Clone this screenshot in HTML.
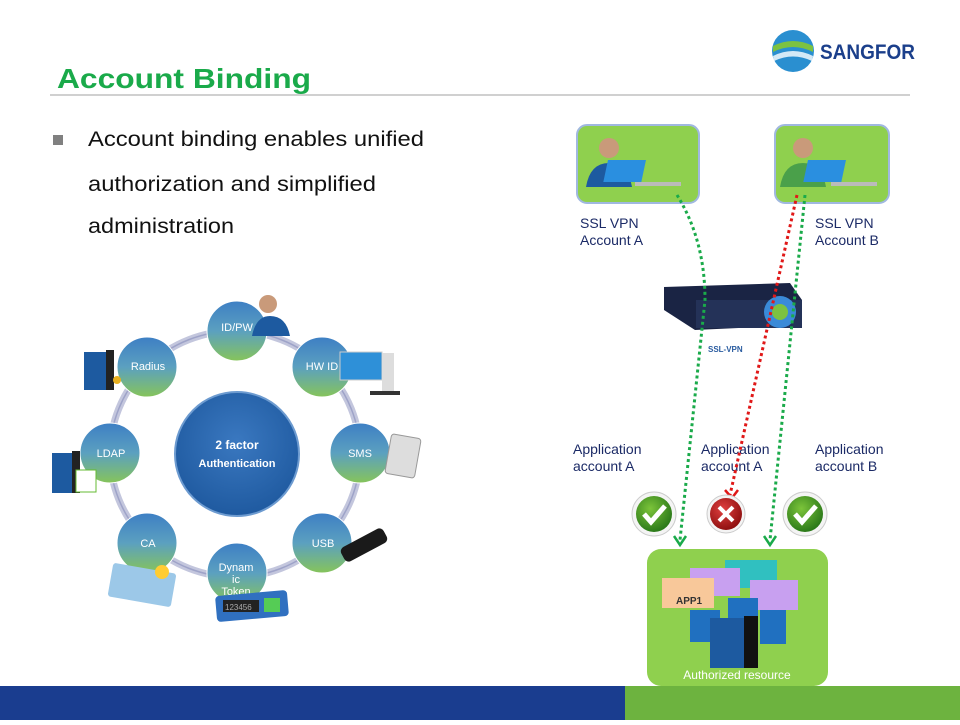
<!DOCTYPE html>
<html><head><style>
body{margin:0;width:960px;height:720px;overflow:hidden;background:#fff;font-family:"Liberation Sans",sans-serif;}
</style></head><body>
<svg width="960" height="720" xmlns="http://www.w3.org/2000/svg" font-family="Liberation Sans, sans-serif">
<defs>
<linearGradient id="bub2" x1="0" y1="0" x2="0" y2="1"><stop offset="0" stop-color="#3d7fc4"/><stop offset="0.5" stop-color="#5ba0c0"/><stop offset="1" stop-color="#86c45a"/></linearGradient>
<radialGradient id="ctr" cx="50%" cy="40%" r="60%"><stop offset="0" stop-color="#3a78c0"/><stop offset="1" stop-color="#1f5aa0"/></radialGradient>
<radialGradient id="chk" cx="40%" cy="35%" r="65%"><stop offset="0" stop-color="#7cc43a"/><stop offset="1" stop-color="#2c7a1a"/></radialGradient>
<radialGradient id="xr" cx="40%" cy="35%" r="65%"><stop offset="0" stop-color="#e04040"/><stop offset="1" stop-color="#901010"/></radialGradient>
</defs>
<circle cx="793" cy="51" r="21" fill="#2a8fd0"/>
<path d="M773 46 Q793 36 813 46 L813 52 Q793 42 773 52Z" fill="#7cc241"/>
<path d="M773 56 Q793 46 813 56 L812 61 Q793 52 774 61Z" fill="#fff" opacity="0.8"/>
<text x="820" y="59" font-size="21" font-weight="bold" fill="#1b3f8b" textLength="95" lengthAdjust="spacingAndGlyphs">SANGFOR</text>
<text x="57" y="88" font-size="28" font-weight="bold" fill="#1aaa4a" textLength="254" lengthAdjust="spacingAndGlyphs">Account Binding</text>
<rect x="50" y="94" width="860" height="2" fill="#d0d0d0"/>
<rect x="53" y="135" width="10" height="10" fill="#808080"/>
<g font-size="21" fill="#111">
<text x="88" y="146" textLength="336" lengthAdjust="spacingAndGlyphs">Account binding enables unified</text>
<text x="88" y="191" textLength="288" lengthAdjust="spacingAndGlyphs">authorization and simplified</text>
<text x="88" y="233" textLength="146" lengthAdjust="spacingAndGlyphs">administration</text>
</g>
<ellipse cx="235" cy="454" rx="125" ry="123" fill="none" stroke="#c3c6dd" stroke-width="7"/>
<ellipse cx="235" cy="454" rx="125" ry="123" fill="none" stroke="#9ea3c8" stroke-width="1.5"/>
<circle cx="237" cy="454" r="62" fill="url(#ctr)" stroke="#6d9bd0" stroke-width="2"/>
<text x="237" y="449" font-size="12" font-weight="bold" fill="#fff" text-anchor="middle">2 factor</text>
<text x="237" y="467" font-size="11" font-weight="bold" fill="#fff" text-anchor="middle">Authentication</text>
<g fill="url(#bub2)" stroke="#fff" stroke-width="1">
<circle cx="237" cy="331" r="30"/><circle cx="322" cy="367" r="30"/><circle cx="360" cy="453" r="30"/><circle cx="322" cy="543" r="30"/>
<circle cx="237" cy="573" r="30"/><circle cx="147" cy="543" r="30"/><circle cx="110" cy="453" r="30"/><circle cx="147" cy="367" r="30"/>
</g>
<g font-size="11" fill="#fff" text-anchor="middle">
<text x="237" y="331">ID/PW</text><text x="322" y="370">HW ID</text><text x="360" y="457">SMS</text><text x="323" y="547">USB</text>
<text x="236" y="571">Dynam</text><text x="236" y="583">ic</text><text x="236" y="595">Token</text>
<text x="148" y="547">CA</text><text x="111" y="457">LDAP</text><text x="148" y="370">Radius</text>
</g>
<circle cx="268" cy="304" r="9" fill="#c99a7a"/><path d="M252 336 Q256 316 270 316 Q286 316 290 336Z" fill="#1d5aa0"/>
<rect x="340" y="352" width="42" height="28" fill="#2e90d8" stroke="#ccc"/><rect x="382" y="353" width="12" height="38" fill="#ddd"/><rect x="370" y="391" width="30" height="4" fill="#333"/>
<rect x="388" y="436" width="30" height="40" rx="3" fill="#ddd" stroke="#999" transform="rotate(10 403 456)"/>
<rect x="340" y="537" width="48" height="16" rx="5" fill="#1a1a1a" transform="rotate(-28 364 545)"/>
<rect x="216" y="593" width="72" height="26" rx="4" fill="#3070c0" transform="rotate(-5 252 606)"/><rect x="223" y="600" width="36" height="12" fill="#222"/><text x="225" y="610" font-size="8" fill="#aaa">123456</text><rect x="264" y="598" width="16" height="14" fill="#5c5"/>
<rect x="110" y="568" width="64" height="34" rx="3" fill="#9cc8e8" transform="rotate(10 142 585)"/><circle cx="162" cy="572" r="7" fill="#fc3"/>
<rect x="84" y="352" width="22" height="38" fill="#1d5aa0"/><rect x="106" y="350" width="8" height="40" fill="#222"/><circle cx="117" cy="380" r="4" fill="#e8b020"/>
<rect x="52" y="453" width="20" height="40" fill="#1d5aa0"/><rect x="72" y="451" width="8" height="42" fill="#222"/><rect x="76" y="470" width="20" height="22" fill="#fff" stroke="#6b3"/>
<rect x="577" y="125" width="122" height="78" rx="10" fill="#8fd04e" stroke="#a0b8e0" stroke-width="2"/>
<rect x="775" y="125" width="114" height="78" rx="10" fill="#8fd04e" stroke="#a0b8e0" stroke-width="2"/>
<circle cx="609" cy="148" r="10" fill="#c99a7a"/><path d="M586 187 Q590 163 609 163 Q628 163 632 187Z" fill="#1d5aa0"/>
<rect x="642" y="160" width="38" height="22" fill="#2a8fe0" transform="skewX(-12)"/><rect x="635" y="182" width="46" height="4" fill="#bbb"/>
<circle cx="803" cy="148" r="10" fill="#c99a7a"/><path d="M780 187 Q784 163 803 163 Q822 163 826 187Z" fill="#4aa04a"/>
<rect x="842" y="160" width="38" height="22" fill="#2a8fe0" transform="skewX(-12)"/><rect x="831" y="182" width="46" height="4" fill="#bbb"/>
<g font-size="14" fill="#1b2a66">
<text x="580" y="228">SSL VPN</text><text x="580" y="245">Account  A</text>
<text x="815" y="228">SSL VPN</text><text x="815" y="245">Account  B</text>
<text x="573" y="454">Application</text><text x="573" y="471">account  A</text>
<text x="701" y="454">Application</text><text x="701" y="471">account  A</text>
<text x="815" y="454">Application</text><text x="815" y="471">account  B</text>
</g>
<path d="M664 287 L790 283 L802 300 L802 325 L695 330 L664 310Z" fill="#1a2444"/>
<rect x="696" y="300" width="106" height="28" fill="#243258"/>
<circle cx="780" cy="312" r="16" fill="#3a8ad8"/><circle cx="780" cy="312" r="8" fill="#7cc241"/>
<text x="708" y="352" font-size="8" font-weight="bold" fill="#2a5ca0">SSL-VPN</text>
<g fill="none" stroke-width="3" stroke-dasharray="3 3">
<path d="M677 195 Q705 240 705 300 L680 540" stroke="#1aaa4a"/>
<path d="M805 195 L770 540" stroke="#1aaa4a"/>
<path d="M797 195 L730 495" stroke="#e01818"/>
</g>
<path d="M674 536 L680 545 L686 536" fill="none" stroke="#1aaa4a" stroke-width="2.5"/>
<path d="M764 536 L770 545 L776 536" fill="none" stroke="#1aaa4a" stroke-width="2.5"/>
<path d="M725 490 L732 498 L738 490" fill="none" stroke="#e01818" stroke-width="2.5"/>
<circle cx="654" cy="514" r="22" fill="#f4f4f4" stroke="#ccc"/><circle cx="654" cy="514" r="18" fill="url(#chk)"/><path d="M644 514 L651 522 L665 506" stroke="#fff" stroke-width="5" fill="none"/>
<circle cx="726" cy="514" r="19" fill="#f4f4f4" stroke="#ccc"/><circle cx="726" cy="514" r="16" fill="url(#xr)"/><path d="M719 507 L733 521 M733 507 L719 521" stroke="#fff" stroke-width="4"/>
<circle cx="805" cy="514" r="22" fill="#f4f4f4" stroke="#ccc"/><circle cx="805" cy="514" r="18" fill="url(#chk)"/><path d="M795 514 L802 522 L816 506" stroke="#fff" stroke-width="5" fill="none"/>
<rect x="647" y="549" width="181" height="137" rx="14" fill="#8fd04e"/>
<rect x="725" y="560" width="52" height="28" fill="#30c0c0"/><rect x="690" y="568" width="50" height="28" fill="#c8a0f0"/>
<rect x="662" y="578" width="52" height="30" fill="#f8c89a"/><rect x="750" y="580" width="48" height="30" fill="#c8a0f0"/>
<text x="676" y="604" font-size="10" font-weight="bold" fill="#333">APP1</text>
<rect x="690" y="610" width="30" height="32" fill="#2070c0"/><rect x="728" y="598" width="30" height="34" fill="#2070c0"/><rect x="760" y="610" width="26" height="34" fill="#2070c0"/>
<rect x="710" y="618" width="34" height="50" fill="#1d5aa0"/><rect x="744" y="616" width="14" height="52" fill="#111"/>
<text x="737" y="679" font-size="12" fill="#fff" text-anchor="middle">Authorized resource</text>
<rect x="0" y="686" width="625" height="34" fill="#1a3d8f"/>
<rect x="625" y="686" width="335" height="34" fill="#6db33f"/>
</svg>
</body></html>
